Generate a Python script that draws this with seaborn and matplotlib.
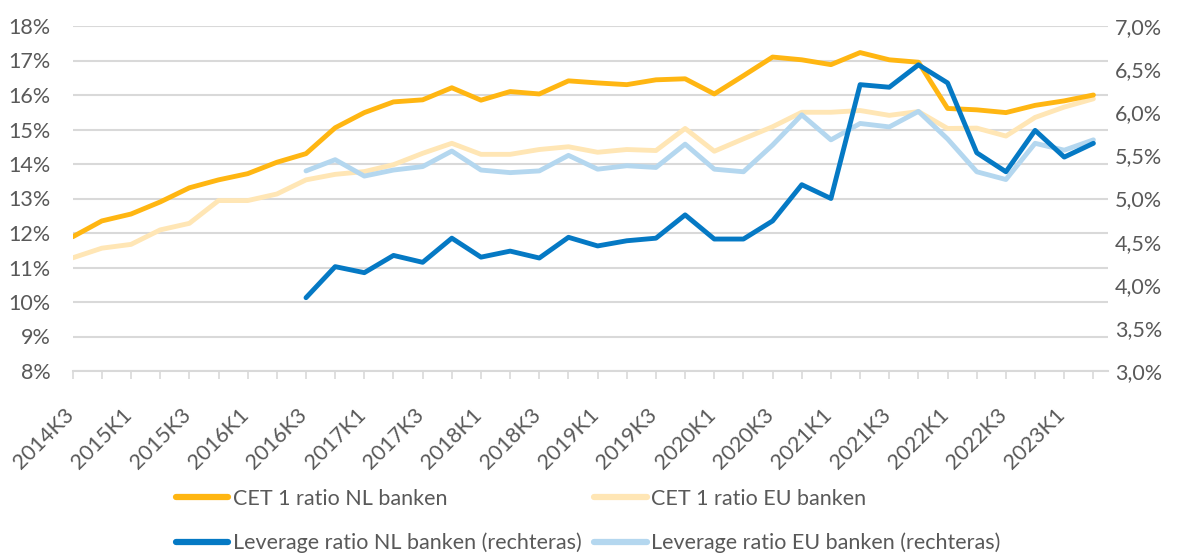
import numpy as np
import pandas as pd
import matplotlib
matplotlib.use("Agg")
import matplotlib.pyplot as plt
import matplotlib.transforms as mtransforms
from matplotlib.ticker import FuncFormatter
import seaborn as sns

quarters = ["2014K3", "2014K4", "2015K1", "2015K2", "2015K3", "2015K4",
            "2016K1", "2016K2", "2016K3", "2016K4", "2017K1", "2017K2",
            "2017K3", "2017K4", "2018K1", "2018K2", "2018K3", "2018K4",
            "2019K1", "2019K2", "2019K3", "2019K4", "2020K1", "2020K2",
            "2020K3", "2020K4", "2021K1", "2021K2", "2021K3", "2021K4",
            "2022K1", "2022K2", "2022K3", "2022K4", "2023K1", "2023K2"]

cet1_nl = [11.89, 12.35, 12.55, 12.90, 13.31, 13.54, 13.72, 14.05, 14.30, 15.05,
           15.49, 15.80, 15.86, 16.21, 15.85, 16.10, 16.03, 16.41, 16.35, 16.30,
           16.44, 16.47, 16.03, 16.56, 17.10, 17.02, 16.88, 17.23, 17.02, 16.95,
           15.61, 15.57, 15.49, 15.70, 15.83, 16.00]

cet1_eu = [11.28, 11.56, 11.67, 12.09, 12.28, 12.94, 12.94, 13.13, 13.54, 13.70,
           13.78, 13.98, 14.31, 14.60, 14.28, 14.28, 14.42, 14.50, 14.34, 14.42,
           14.39, 15.03, 14.37, 14.73, 15.08, 15.50, 15.50, 15.55, 15.41, 15.52,
           15.03, 15.04, 14.81, 15.35, 15.65, 15.89]

lev_nl = [None, None, None, None, None, None, None, None,
          3.85, 4.21, 4.14, 4.34, 4.26, 4.54, 4.32, 4.39, 4.31, 4.55, 4.45, 4.51,
          4.54, 4.81, 4.53, 4.53, 4.74, 5.16, 5.00, 6.32, 6.29, 6.55, 6.34, 5.53,
          5.31, 5.79, 5.48, 5.64]

lev_eu = [None, None, None, None, None, None, None, None,
          5.32, 5.45, 5.26, 5.33, 5.37, 5.55, 5.33, 5.30, 5.32, 5.50, 5.34, 5.38,
          5.36, 5.63, 5.34, 5.31, 5.62, 5.97, 5.68, 5.87, 5.83, 6.01, 5.69, 5.31,
          5.22, 5.64, 5.56, 5.68]

labels = ["CET 1 ratio NL banken", "CET 1 ratio EU banken",
          "Leverage ratio NL banken (rechteras)", "Leverage ratio EU banken (rechteras)"]
left_ticks = [8, 9, 10, 11, 12, 13, 14, 15, 16, 17, 18]
right_ticks = [3.0, 3.5, 4.0, 4.5, 5.0, 5.5, 6.0, 6.5, 7.0]

df = pd.DataFrame({
    "idx": np.arange(len(quarters)),
    "q": quarters,
    "cet1_nl": cet1_nl,
    "cet1_eu": cet1_eu,
    "lev_nl": pd.to_numeric(pd.Series(lev_nl), errors="coerce"),
    "lev_eu": pd.to_numeric(pd.Series(lev_eu), errors="coerce"),
})

sns.set_theme(style="white")
plt.rcParams["font.family"] = ["Lato", "DejaVu Sans"]

TXT = "#595959"
GRID = "#D9D9D9"
C_NL = "#FFB612"
C_EU = "#FFE6B5"
C_LNL = "#0579C4"
C_LEU = "#B4D7EF"
LW = 3.5
FS = 15.5

fig = plt.figure(figsize=(11.82, 5.54), dpi=100)
ax = fig.add_axes([72.7 / 1182, 1 - 371 / 554, (1108 - 72.7) / 1182, (371 - 26) / 554])
ax2 = ax.twinx()

sns.lineplot(data=df, x="idx", y="cet1_eu", ax=ax, color=C_EU, lw=LW, label=labels[1], legend=False)
sns.lineplot(data=df, x="idx", y="cet1_nl", ax=ax, color=C_NL, lw=LW, label=labels[0], legend=False)
sns.lineplot(data=df.dropna(), x="idx", y="lev_eu", ax=ax2, color=C_LEU, lw=LW, label=labels[3], legend=False)
sns.lineplot(data=df.dropna(), x="idx", y="lev_nl", ax=ax2, color=C_LNL, lw=LW, label=labels[2], legend=False)

for a in (ax, ax2):
    a.set_xlim(0, 35.5)
    a.set_xlabel("")
    a.set_ylabel("")
    for s in a.spines.values():
        s.set_visible(False)

ax.set_ylim(8, 18)
ax2.set_ylim(3, 7)
ax.set_yticks(left_ticks)
ax.yaxis.set_major_formatter(FuncFormatter(lambda v, p: f"{v:.0f}%"))
ax2.set_yticks(right_ticks)
ax2.yaxis.set_major_formatter(FuncFormatter(lambda v, p: f"{v:.1f}%".replace(".", ",")))
ax.grid(axis="y", color=GRID, lw=1.5)
ax.grid(axis="x", visible=False)
ax2.grid(False)
ax.set_axisbelow(True)
ax.spines["bottom"].set_visible(True)
ax.spines["bottom"].set_color(GRID)
ax.spines["bottom"].set_linewidth(1.5)

ax.tick_params(axis="y", length=0, pad=16, labelsize=FS, labelcolor=TXT)
ax2.tick_params(axis="y", length=0, pad=5, labelsize=FS, labelcolor=TXT)

ax.set_xticks(np.arange(len(quarters)))
ax.set_xticklabels([q if i % 2 == 0 else "" for i, q in enumerate(quarters)])
ax.tick_params(axis="x", bottom=True, length=6, width=1.2, color=GRID, pad=4,
               labelsize=FS, labelcolor=TXT)
ax2.tick_params(axis="x", bottom=False, labelbottom=False)
offset = mtransforms.ScaledTranslation(-2 / 100, -27 / 100, fig.dpi_scale_trans)
for lab in ax.get_xticklabels():
    lab.set_rotation(45)
    lab.set_ha("right")
    lab.set_va("center")
    lab.set_rotation_mode("anchor")
    lab.set_transform(lab.get_transform() + offset)

h1, l1 = ax.get_legend_handles_labels()
h2, l2 = ax2.get_legend_handles_labels()
hd = dict(zip(l1 + l2, h1 + h2))
order = [labels[0], labels[2], labels[1], labels[3]]
leg = fig.legend([hd[k] for k in order], order, loc="center left",
                 bbox_to_anchor=(167 / 1182, 1 - 521 / 554), ncol=2, frameon=False,
                 fontsize=FS, handlelength=2.45, handletextpad=0.2,
                 columnspacing=0.6, labelspacing=1.13, borderaxespad=0)
for t in leg.get_texts():
    t.set_color(TXT)
for l in leg.get_lines():
    l.set_linewidth(4.5)

fig.savefig("out.png", dpi=100)
